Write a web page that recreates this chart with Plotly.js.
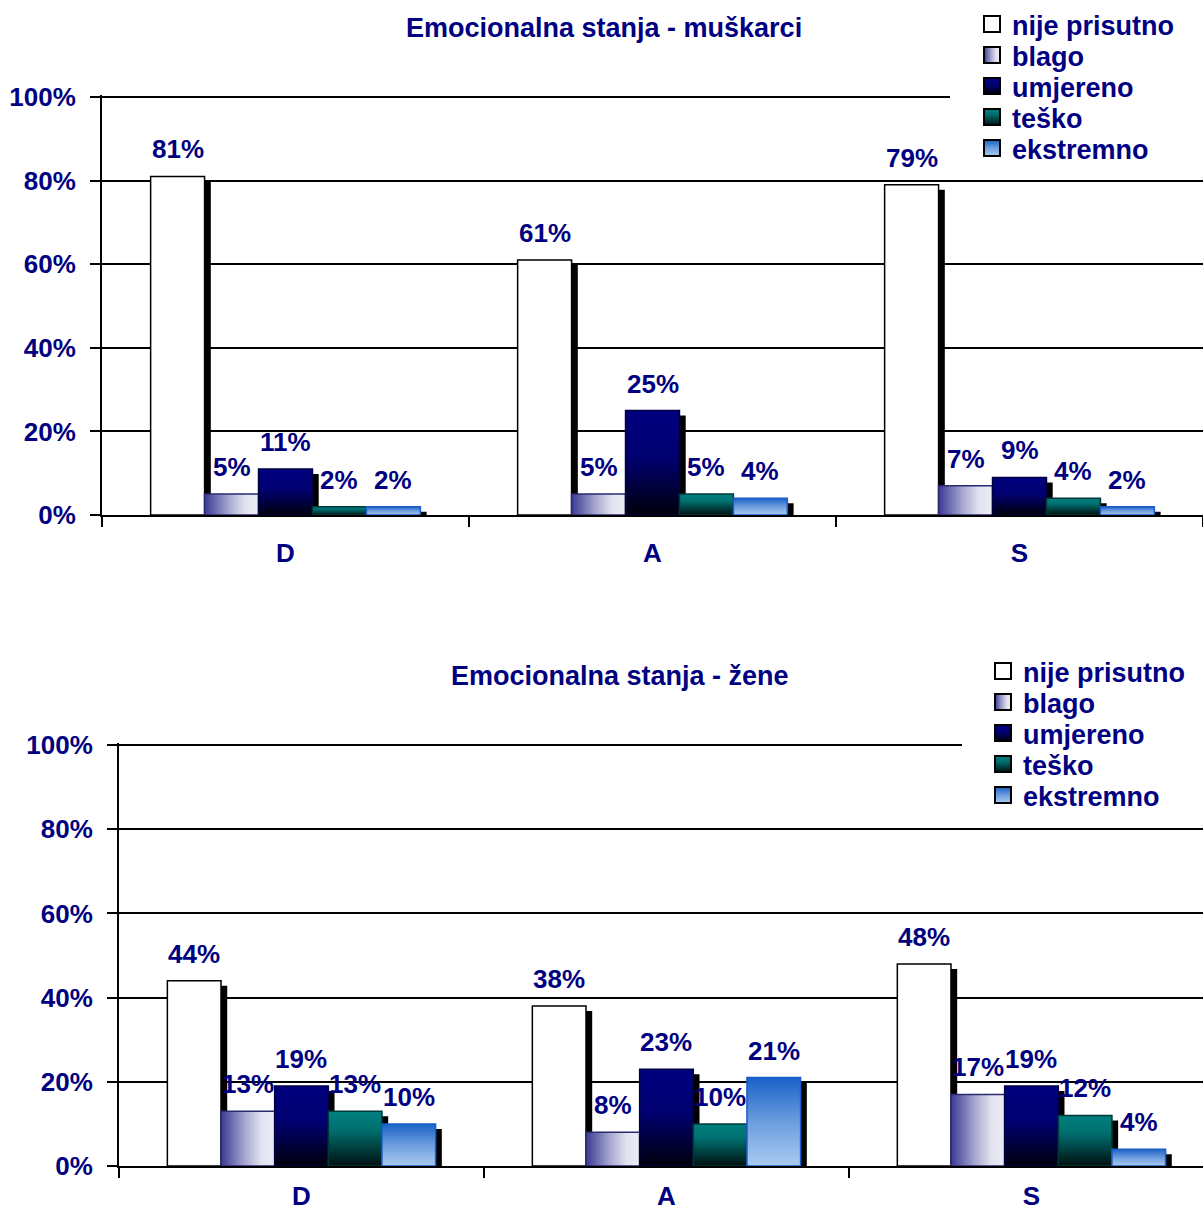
<!DOCTYPE html>
<html>
<head>
<meta charset="utf-8">
<script src="https://cdn.plot.ly/plotly-3.0.1.min.js"></script>
<style>
  html, body { margin: 0; padding: 0; background: #ffffff; }
  #chart { width: 1203px; height: 1211px; }
</style>
</head>
<body>
<div id="chart"></div>
<script>
// ---------- data ----------
const categories = ['D', 'A', 'S'];
const seriesNames = ['nije prisutno', 'blago', 'umjereno', 'teško', 'ekstremno'];

const menTitle = 'Emocionalna stanja - muškarci';
const menNije = [81, 61, 79];
const menBlago = [5, 5, 7];
const menUmjereno = [11, 25, 9];
const menTesko = [2, 5, 4];
const menEkstremno = [2, 4, 2];

const womenTitle = 'Emocionalna stanja - žene';
const womenNije = [44, 38, 48];
const womenBlago = [13, 8, 17];
const womenUmjereno = [19, 23, 19];
const womenTesko = [13, 10, 12];
const womenEkstremno = [10, 21, 4];

const yTickVals = [0, 20, 40, 60, 80, 100];
const yTickText = ['0%', '20%', '40%', '60%', '80%', '100%'];

// ---------- styles ----------
const NAVY = '#000080';
const FONT = 'Liberation Sans';
// placeholder fills (replaced by gradients after render)
const fills = ['#ffffff', '#8a8ac1', '#000061', '#005151', '#6191d9'];
const lines = ['#000000', '#2a2a70', '#000040', '#003838', '#1a5cc8'];
const grads = [null, 'gBlago', 'gUmj', 'gTesko', 'gEks'];

const W = 0.147;          // bar width (category units)
const OFF0 = -2.5 * W;    // first bar offset
const DX = 0.017;         // shadow shift right
const SH = 1.2;           // shadow shift down (%)

const traces = [];
const annotations = [];

function addPanel(vals, xa, ya, legendName) {
  vals.forEach((v, i) => {
    traces.push({
      type: 'bar', x: categories, y: v, base: v.map(() => -SH),
      offset: OFF0 + i * W + DX, width: W,
      xaxis: xa, yaxis: ya, showlegend: false, hoverinfo: 'skip',
      marker: { color: '#000000', line: { width: 0 } }
    });
  });
  vals.forEach((v, i) => {
    traces.push({
      type: 'bar', x: categories, y: v, name: seriesNames[i],
      offset: OFF0 + i * W, width: W,
      xaxis: xa, yaxis: ya, legend: legendName, showlegend: true,
      marker: { color: fills[i], line: { color: lines[i], width: 1.5 } }
    });
    v.forEach((val, j) => {
      annotations.push({
        x: j + OFF0 + i * W + W / 2, y: val, xref: xa, yref: ya,
        text: val + '%', showarrow: false, yanchor: 'middle', yshift: 27,
        font: { family: FONT, size: 26, color: NAVY, weight: 'bold' }
      });
    });
  });
}

addPanel([menNije, menBlago, menUmjereno, menTesko, menEkstremno], 'x', 'y', 'legend');
addPanel([womenNije, womenBlago, womenUmjereno, womenTesko, womenEkstremno], 'x2', 'y2', 'legend2');

annotations.push({
  xref: 'paper', yref: 'paper', x: 604 / 1203, y: 1 - 28 / 1211, xanchor: 'center', yanchor: 'middle',
  text: menTitle, showarrow: false, font: { family: FONT, size: 27, color: NAVY, weight: 'bold' }
});
annotations.push({
  xref: 'paper', yref: 'paper', x: 620 / 1203, y: 1 - 676 / 1211, xanchor: 'center', yanchor: 'middle',
  text: womenTitle, showarrow: false, font: { family: FONT, size: 27, color: NAVY, weight: 'bold' }
});

const tickFont = { family: FONT, size: 26, color: NAVY, weight: 'bold' };

function yAxis(domain, anchor) {
  return {
    domain: domain, range: [0, 100.5], anchor: anchor,
    tickmode: 'array', tickvals: yTickVals, ticktext: yTickText,
    showgrid: true, gridcolor: '#000000', gridwidth: 2, zeroline: false,
    showline: true, linecolor: '#000000', linewidth: 2,
    ticks: 'outside', ticklen: 10, tickwidth: 2, tickcolor: '#000000',
    tickfont: tickFont, ticklabelstandoff: 9, fixedrange: true
  };
}
function xAxis(domain, range, anchor, standoff) {
  return {
    domain: domain, range: range, type: 'category', anchor: anchor,
    showline: true, linecolor: '#000000', linewidth: 2,
    ticks: 'outside', ticklen: 10, tickwidth: 2, tickcolor: '#000000', tickson: 'boundaries',
    tickfont: tickFont, ticklabelstandoff: standoff, showgrid: false, fixedrange: true
  };
}

const legendFont = { family: FONT, size: 27, color: NAVY, weight: 'bold' };

const layout = {
  width: 1203, height: 1211,
  margin: { l: 0, r: 0, t: 0, b: 0 },
  paper_bgcolor: '#ffffff', plot_bgcolor: 'rgba(0,0,0,0)',
  barmode: 'overlay', showlegend: true,
  xaxis: xAxis([102 / 1203, 1], [-0.5, 2.5], 'y', 14),
  yaxis: yAxis([1 - 515 / 1211, 1 - 94.9 / 1211], 'x'),
  xaxis2: xAxis([119 / 1203, 1], [-0.5, 2.47], 'y2', 6),
  yaxis2: yAxis([1 - 1166 / 1211, 1 - 742.9 / 1211], 'x2'),
  legend: {
    x: 972 / 1203, y: 1, xanchor: 'left', yanchor: 'top',
    bgcolor: 'rgba(0,0,0,0)', borderwidth: 0, font: legendFont, traceorder: 'normal'
  },
  legend2: {
    x: 983 / 1203, y: 1 - 647 / 1211, xanchor: 'left', yanchor: 'top',
    bgcolor: 'rgba(0,0,0,0)', borderwidth: 0, font: legendFont, traceorder: 'normal'
  },
  shapes: [
    { type: 'rect', xref: 'paper', yref: 'paper', x0: 950 / 1203, x1: 1, y0: 1 - 165 / 1211, y1: 1,
      fillcolor: '#ffffff', line: { width: 0 }, layer: 'above' },
    { type: 'rect', xref: 'paper', yref: 'paper', x0: 962 / 1203, x1: 1, y0: 1 - 812 / 1211, y1: 1 - 640 / 1211,
      fillcolor: '#ffffff', line: { width: 0 }, layer: 'above' }
  ],
  annotations: annotations
};

function hexToRgb(h) {
  const n = parseInt(h.slice(1), 16);
  return 'rgb(' + ((n >> 16) & 255) + ', ' + ((n >> 8) & 255) + ', ' + (n & 255) + ')';
}

function postProcess(gd) {
  const svg = gd.querySelector('svg.main-svg');
  const defs = svg.querySelector('defs');
  const ns = 'http://www.w3.org/2000/svg';
  const specs = {
    gBlago: { x2: '1', y2: '0', stops: [[0, '#3a3a94'], [0.45, '#a8a8d0'], [0.75, '#e2e2f0'], [1, '#ececf6']] },
    gUmj: { x2: '0', y2: '1', stops: [[0, '#000080'], [0.45, '#000070'], [1, '#00000c']] },
    gTesko: { x2: '0', y2: '1', stops: [[0, '#008080'], [0.35, '#006e6e'], [1, '#001010']] },
    gEks: { x2: '0', y2: '1', stops: [[0, '#1a62c8'], [0.5, '#6c9ddf'], [1, '#aacbf0']] }
  };
  Object.keys(specs).forEach(id => {
    const s = specs[id];
    const g = document.createElementNS(ns, 'linearGradient');
    g.setAttribute('id', id);
    g.setAttribute('x1', '0'); g.setAttribute('y1', '0');
    g.setAttribute('x2', s.x2); g.setAttribute('y2', s.y2);
    s.stops.forEach(st => {
      const e = document.createElementNS(ns, 'stop');
      e.setAttribute('offset', st[0]);
      e.setAttribute('stop-color', st[1]);
      g.appendChild(e);
    });
    defs.appendChild(g);
  });
  const map = {};
  fills.forEach((f, i) => { if (grads[i]) map[hexToRgb(f)] = grads[i]; });
  gd.querySelectorAll('path').forEach(p => {
    const f = p.style.fill;
    if (map[f]) p.style.fill = 'url(#' + map[f] + ')';
  });
  // legends: larger swatches with black outline, tighter item spacing
  const legs = Array.from(gd.querySelectorAll('g.infolayer > g')).filter(g => {
    const c = g.getAttribute('class') || '';
    return /^legend\d*$/.test(c);
  });
  legs.forEach(leg => {
    leg.querySelectorAll('.legendpoints path').forEach(p => {
      p.setAttribute('d', 'M8,8H-8V-8H8Z');
      p.style.stroke = '#000000';
      p.style.strokeWidth = '2px';
    });
    const items = leg.querySelectorAll('g.traces');
    let y0 = null;
    items.forEach((it, k) => {
      const t = it.getAttribute('transform') || '';
      const m = /translate\(\s*([-\d.]+)[ ,]+([-\d.]+)\s*\)/.exec(t);
      if (m) {
        if (y0 === null) y0 = parseFloat(m[2]);
        it.setAttribute('transform', 'translate(' + m[1] + ',' + (y0 + k * 31) + ')');
      }
    });
    const clip = leg.querySelector('.scrollbox');
    if (clip) clip.removeAttribute('clip-path');
  });
}

const gd = document.getElementById('chart');
Plotly.newPlot(gd, traces, layout, { staticPlot: true, displayModeBar: false }).then(() => postProcess(gd));
</script>
</body>
</html>
